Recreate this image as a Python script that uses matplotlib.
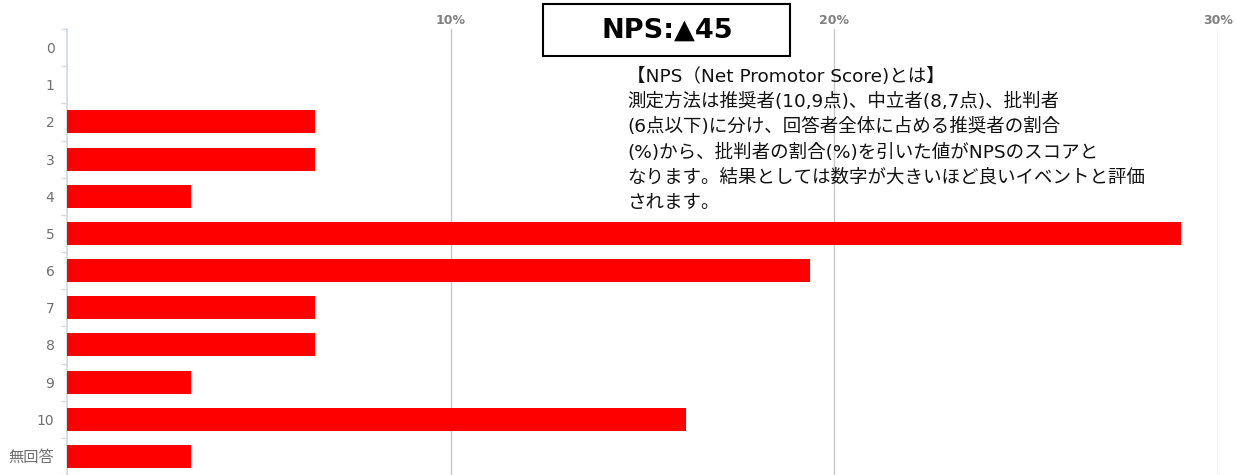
import matplotlib
matplotlib.use("Agg")
import matplotlib.pyplot as plt
from matplotlib.patches import Rectangle
import numpy as np

plt.rcParams['font.family'] = ['DejaVu Sans', 'Noto Sans CJK JP']

# NPS score distribution (31 respondents)
labels = ['0', '1', '2', '3', '4', '5', '6', '7', '8', '9', '10', '無回答']
counts = [0, 0, 2, 2, 1, 9, 6, 2, 2, 1, 5, 1]
total = sum(counts)
pct = [c / total * 100 for c in counts]
xticks = [10, 20, 30]
title = 'NPS:▲45'
note = ('【NPS（Net Promotor Score)とは】\n'
        '測定方法は推奨者(10,9点)、中立者(8,7点)、批判者\n'
        '(6点以下)に分け、回答者全体に占める推奨者の割合\n'
        '(%)から、批判者の割合(%)を引いた値がNPSのスコアと\n'
        'なります。結果としては数字が大きいほど良いイベントと評価\n'
        'されます。')

fig = plt.figure(figsize=(12.36, 4.75), dpi=100)
ax = fig.add_axes([67/1236, 0, (1218-67)/1236, 1 - 29/475])

y = np.arange(len(labels))
ax.barh(y, pct, height=0.62, color='#ff0000', edgecolor='none', zorder=3)
ax.set_ylim(len(labels) - 0.5, -0.5)
ax.set_xlim(0, 30)

ax.set_yticks(y)
ax.set_yticklabels(labels, color='#6f6f6f', fontsize=10)
for t in ax.get_yticklabels():
    if t.get_text() == '無回答':
        t.set_fontsize(11)
ax.set_yticks(np.arange(len(labels) + 1) - 0.5, minor=True)
ax.tick_params(axis='y', which='major', length=0, pad=9)
ax.tick_params(axis='y', which='minor', length=4, color='#d0d8e4', width=1)

ax.xaxis.tick_top()
ax.set_xticks(xticks)
ax.set_xticklabels([f'{t}%' for t in xticks], color='#808080', fontsize=9, fontweight='bold')
ax.tick_params(axis='x', length=0, pad=1.5)
ax.grid(axis='x', color='#c8c8c8', linewidth=1, zorder=0)

for s in ['top', 'right', 'bottom']:
    ax.spines[s].set_visible(False)
ax.spines['left'].set_color('#d0d8e4')
ax.spines['left'].set_linewidth(1.2)

# title box
fig.patches.append(Rectangle((543/1236, 1 - 56/475), (790-543)/1236, 52/475,
                             transform=fig.transFigure, facecolor='white',
                             edgecolor='black', linewidth=1.5, zorder=5))
fig.text(667/1236, 1 - 31/475, title, ha='center', va='center', fontsize=19.5,
         fontweight='bold', zorder=6)

fig.text(627/1236, 1 - 68/475, note, ha='left', va='top', fontsize=13.3,
         linespacing=1.5, color='#111111')

fig.savefig('out.png', dpi=100)
